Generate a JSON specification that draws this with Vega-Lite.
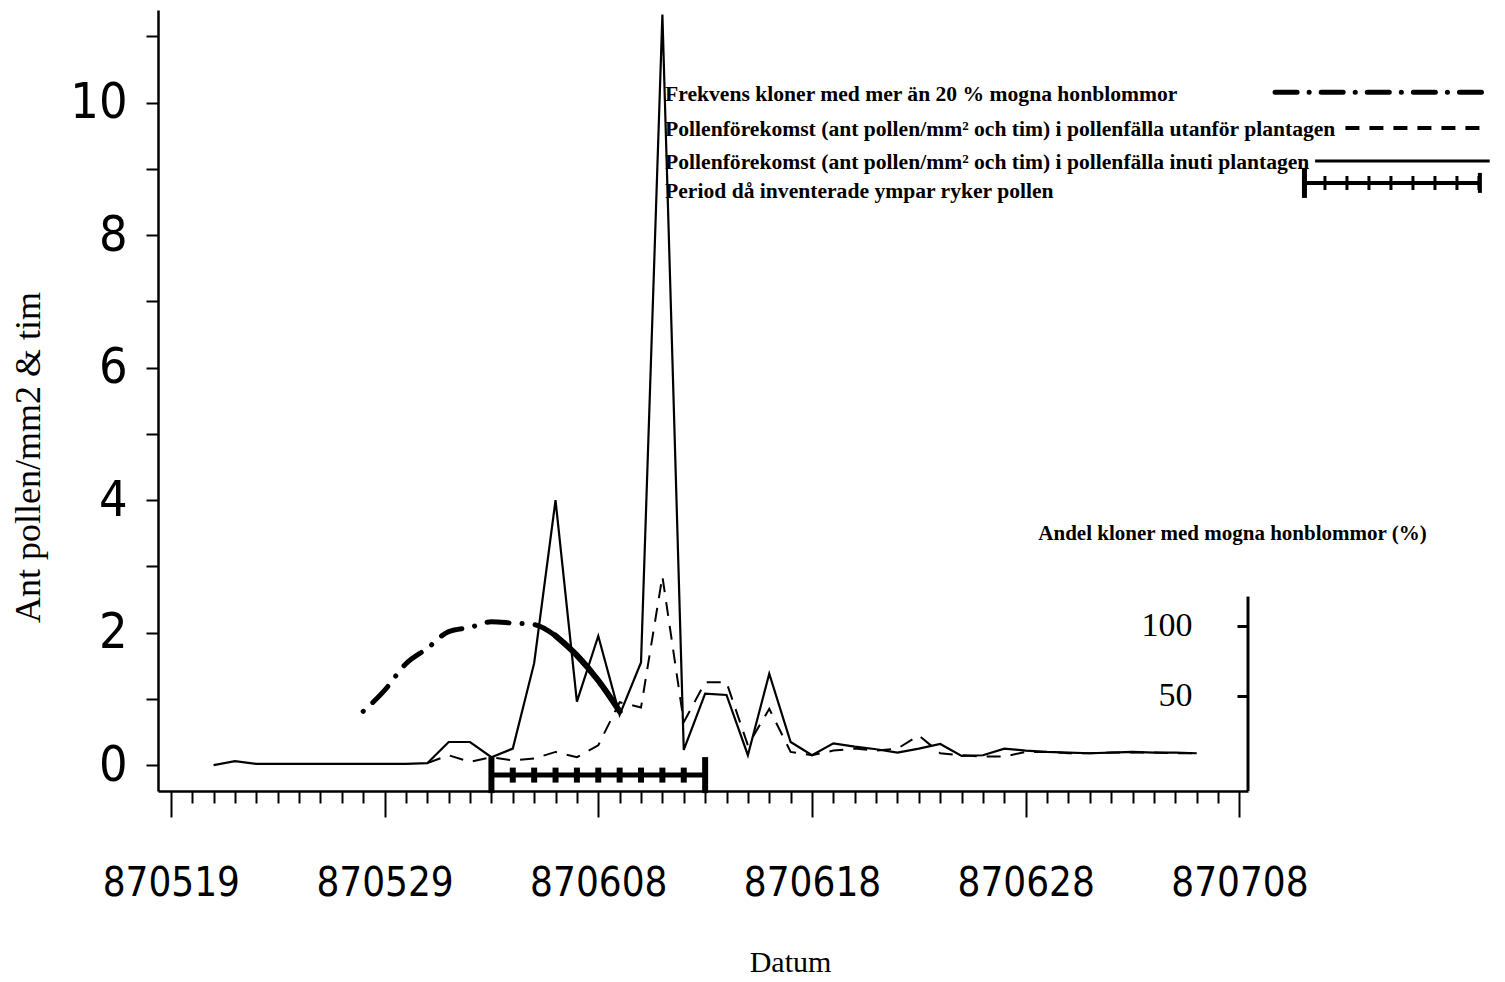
{
  "$schema": "https://vega.github.io/schema/vega-lite/v6.json",
  "width": 1090,
  "height": 781,
  "autosize": "none",
  "padding": {"left": 158, "top": 10, "right": 257, "bottom": 191},
  "background": "white",
  "config": {"view": {"stroke": null}, "font": "Liberation Serif"},
  "datasets": {
    "pollen": [
      {"Datum": "1987-05-21", "inuti": 0.0},
      {"Datum": "1987-05-22", "inuti": 0.06},
      {"Datum": "1987-05-23", "inuti": 0.02},
      {"Datum": "1987-05-24", "inuti": 0.02},
      {"Datum": "1987-05-25", "inuti": 0.02},
      {"Datum": "1987-05-26", "inuti": 0.02},
      {"Datum": "1987-05-27", "inuti": 0.02},
      {"Datum": "1987-05-28", "inuti": 0.02},
      {"Datum": "1987-05-29", "inuti": 0.02},
      {"Datum": "1987-05-30", "inuti": 0.02},
      {"Datum": "1987-05-31", "inuti": 0.03, "utanfor": 0.03},
      {"Datum": "1987-06-01", "inuti": 0.35, "utanfor": 0.15},
      {"Datum": "1987-06-02", "inuti": 0.35, "utanfor": 0.05},
      {"Datum": "1987-06-03", "inuti": 0.12, "utanfor": 0.12},
      {"Datum": "1987-06-04", "inuti": 0.25, "utanfor": 0.07},
      {"Datum": "1987-06-05", "inuti": 1.54, "utanfor": 0.1},
      {"Datum": "1987-06-06", "inuti": 4.0, "utanfor": 0.2},
      {"Datum": "1987-06-07", "inuti": 0.96, "utanfor": 0.12},
      {"Datum": "1987-06-08", "inuti": 1.95, "utanfor": 0.3},
      {"Datum": "1987-06-09", "inuti": 0.76, "utanfor": 0.95},
      {"Datum": "1987-06-10", "inuti": 1.55, "utanfor": 0.87},
      {"Datum": "1987-06-11", "inuti": 11.33, "utanfor": 2.85},
      {"Datum": "1987-06-12", "inuti": 0.23, "utanfor": 0.65},
      {"Datum": "1987-06-13", "inuti": 1.08, "utanfor": 1.25},
      {"Datum": "1987-06-14", "inuti": 1.06, "utanfor": 1.25},
      {"Datum": "1987-06-15", "inuti": 0.15, "utanfor": 0.3},
      {"Datum": "1987-06-16", "inuti": 1.38, "utanfor": 0.85},
      {"Datum": "1987-06-17", "inuti": 0.35, "utanfor": 0.2},
      {"Datum": "1987-06-18", "inuti": 0.15, "utanfor": 0.15},
      {"Datum": "1987-06-19", "inuti": 0.33, "utanfor": 0.22},
      {"Datum": "1987-06-20", "inuti": 0.28, "utanfor": 0.25},
      {"Datum": "1987-06-21", "inuti": 0.24, "utanfor": 0.22},
      {"Datum": "1987-06-22", "inuti": 0.19, "utanfor": 0.25},
      {"Datum": "1987-06-23", "inuti": 0.25, "utanfor": 0.45},
      {"Datum": "1987-06-24", "inuti": 0.32, "utanfor": 0.18},
      {"Datum": "1987-06-25", "inuti": 0.14, "utanfor": 0.15},
      {"Datum": "1987-06-26", "inuti": 0.15, "utanfor": 0.13},
      {"Datum": "1987-06-27", "inuti": 0.25, "utanfor": 0.13},
      {"Datum": "1987-06-28", "inuti": 0.22, "utanfor": 0.2},
      {"Datum": "1987-06-29", "inuti": 0.2, "utanfor": 0.2},
      {"Datum": "1987-06-30", "inuti": 0.19, "utanfor": 0.18},
      {"Datum": "1987-07-01", "inuti": 0.18, "utanfor": 0.18},
      {"Datum": "1987-07-02", "inuti": 0.19, "utanfor": 0.19},
      {"Datum": "1987-07-03", "inuti": 0.2, "utanfor": 0.19},
      {"Datum": "1987-07-04", "inuti": 0.19, "utanfor": 0.19},
      {"Datum": "1987-07-05", "inuti": 0.19, "utanfor": 0.18},
      {"Datum": "1987-07-06", "inuti": 0.18, "utanfor": 0.18}
    ],
    "period": [
      {"Datum": "1987-06-03", "del": "start"},
      {"Datum": "1987-06-04", "del": "mellan"},
      {"Datum": "1987-06-05", "del": "mellan"},
      {"Datum": "1987-06-06", "del": "mellan"},
      {"Datum": "1987-06-07", "del": "mellan"},
      {"Datum": "1987-06-08", "del": "mellan"},
      {"Datum": "1987-06-09", "del": "mellan"},
      {"Datum": "1987-06-10", "del": "mellan"},
      {"Datum": "1987-06-11", "del": "mellan"},
      {"Datum": "1987-06-12", "del": "mellan"},
      {"Datum": "1987-06-13", "del": "slut"}
    ],
    "andel": [
      {"Datum": "1987-05-28", "andel": 39},
      {"Datum": "1987-05-29", "andel": 54},
      {"Datum": "1987-05-30", "andel": 73},
      {"Datum": "1987-05-31", "andel": 84},
      {"Datum": "1987-06-01", "andel": 96},
      {"Datum": "1987-06-02", "andel": 99},
      {"Datum": "1987-06-03", "andel": 103},
      {"Datum": "1987-06-04", "andel": 102},
      {"Datum": "1987-06-05", "andel": 101},
      {"Datum": "1987-06-06", "andel": 93},
      {"Datum": "1987-06-07", "andel": 79},
      {"Datum": "1987-06-08", "andel": 61},
      {"Datum": "1987-06-09", "andel": 39}
    ],
    "legend": [
      {"nr": 1, "text": "Frekvens kloner med mer än 20 % mogna honblommor"},
      {"nr": 2, "text": "Pollenförekomst (ant pollen/mm² och tim) i pollenfälla utanför plantagen"},
      {"nr": 3, "text": "Pollenförekomst (ant pollen/mm² och tim) i pollenfälla inuti plantagen"},
      {"nr": 4, "text": "Period då inventerade ympar ryker pollen"}
    ]
  },
  "layer": [
    {
      "layer": [
        {
          "data": {"name": "pollen"},
          "mark": {"type": "line", "color": "black", "strokeWidth": 2.2},
          "encoding": {
            "x": {
              "field": "Datum", "type": "temporal",
              "scale": {"type": "utc", "domain": [
                {"year": 1987, "month": 5, "date": 18, "hours": 9, "minutes": 36, "utc": true},
                {"year": 1987, "month": 7, "date": 8, "hours": 9, "minutes": 36, "utc": true}
              ]},
              "axis": {
                "tickCount": {"interval": "day", "step": 1},
                "labelExpr": "round((datum.value - utc(1987,4,19))/864e5) % 10 == 0 ? utcFormat(datum.value, '%y%m%d') : ''",
                "tickSize": {"condition": {"test": "round((datum.value - utc(1987,4,19))/864e5) % 10 == 0", "value": 26}, "value": 12},
                "tickWidth": 2, "tickColor": "black",
                "domainColor": "black", "domainWidth": 2.5,
                "grid": false,
                "labelFont": "'DejaVu Sans Condensed', 'DejaVu Sans', sans-serif",
                "labelFontSize": 40, "labelColor": "black", "labelPadding": 46,
                "labelOverlap": false, "labelFlush": false, "labelBound": false,
                "title": "Datum", "titleFont": "Liberation Serif", "titleFontSize": 30, "titleFontWeight": "normal",
                "titleColor": "black", "titleX": 632, "titleY": 171, "titleAlign": "center", "titleBaseline": "middle"
              }
            },
            "y": {
              "field": "inuti", "type": "quantitative",
              "scale": {"domain": [-0.39, 11.4], "nice": false, "zero": false},
              "axis": {
                "values": [0, 0.5, 1, 1.5, 2, 2.5, 3, 3.5, 4, 4.5, 5, 5.5, 6, 6.5, 7, 7.5, 8, 8.5, 9, 9.5, 10, 10.5, 11],
                "labelExpr": "datum.value % 2 == 0 ? format(datum.value, 'd') : ''",
                "tickSize": 12, "tickWidth": 2, "tickColor": "black",
                "domainColor": "black", "domainWidth": 2.5,
                "grid": false,
                "labelFont": "'DejaVu Sans Condensed', 'DejaVu Sans', sans-serif",
                "labelFontSize": 50, "labelColor": "black", "labelPadding": 19,
                "labelOverlap": false, "labelFlush": false, "labelBound": false,
                "title": "Ant pollen/mm2 & tim", "titleFont": "Liberation Serif", "titleFontSize": 36, "titleFontWeight": "normal",
                "titleColor": "black", "titleX": -130, "titleY": 447, "titleAlign": "center", "titleBaseline": "middle", "titleAngle": 270
              }
            }
          }
        },
        {
          "data": {"name": "pollen"},
          "mark": {"type": "line", "color": "black", "strokeWidth": 2, "strokeDash": [14, 10]},
          "encoding": {
            "x": {"field": "Datum", "type": "temporal"},
            "y": {"field": "utanfor", "type": "quantitative"}
          }
        },
        {
          "data": {"name": "period"},
          "mark": {"type": "line", "color": "black", "strokeWidth": 5},
          "encoding": {
            "x": {"field": "Datum", "type": "temporal"},
            "y": {"datum": -0.15}
          }
        },
        {
          "data": {"name": "period"},
          "transform": [{"filter": "datum.del == 'mellan'"}],
          "mark": {"type": "tick", "orient": "vertical", "color": "black", "opacity": 1, "size": 15, "thickness": 6},
          "encoding": {
            "x": {"field": "Datum", "type": "temporal"},
            "y": {"datum": -0.15}
          }
        },
        {
          "data": {"name": "period"},
          "transform": [{"filter": "datum.del != 'mellan'"}],
          "mark": {"type": "tick", "orient": "vertical", "color": "black", "opacity": 1, "size": 36, "thickness": 6},
          "encoding": {
            "x": {"field": "Datum", "type": "temporal"},
            "y": {"datum": -0.15}
          }
        },
        {
          "data": {"name": "legend"},
          "transform": [{"filter": "datum.nr == 1"}],
          "mark": {"type": "text", "align": "left", "baseline": "middle", "font": "Liberation Serif", "fontWeight": "bold", "fontSize": 21.6, "color": "black"},
          "encoding": {
            "x": {"datum": {"year": 1987, "month": 6, "date": 11, "hours": 3, "utc": true}, "type": "temporal"},
            "y": {"datum": 10.11},
            "text": {"field": "text"}
          }
        },
        {
          "data": {"name": "legend"},
          "transform": [{"filter": "datum.nr == 2"}],
          "mark": {"type": "text", "align": "left", "baseline": "middle", "font": "Liberation Serif", "fontWeight": "bold", "fontSize": 21.6, "color": "black"},
          "encoding": {
            "x": {"datum": {"year": 1987, "month": 6, "date": 11, "hours": 3, "utc": true}, "type": "temporal"},
            "y": {"datum": 9.59},
            "text": {"field": "text"}
          }
        },
        {
          "data": {"name": "legend"},
          "transform": [{"filter": "datum.nr == 3"}],
          "mark": {"type": "text", "align": "left", "baseline": "middle", "font": "Liberation Serif", "fontWeight": "bold", "fontSize": 21.6, "color": "black"},
          "encoding": {
            "x": {"datum": {"year": 1987, "month": 6, "date": 11, "hours": 3, "utc": true}, "type": "temporal"},
            "y": {"datum": 9.09},
            "text": {"field": "text"}
          }
        },
        {
          "data": {"name": "legend"},
          "transform": [{"filter": "datum.nr == 4"}],
          "mark": {"type": "text", "align": "left", "baseline": "middle", "font": "Liberation Serif", "fontWeight": "bold", "fontSize": 21.6, "color": "black"},
          "encoding": {
            "x": {"datum": {"year": 1987, "month": 6, "date": 11, "hours": 3, "utc": true}, "type": "temporal"},
            "y": {"datum": 8.65},
            "text": {"field": "text"}
          }
        },
        {
          "data": {"values": [{}]},
          "mark": {"type": "rule", "color": "black", "strokeWidth": 5, "strokeCap": "round", "strokeDash": [22, 12, 0.1, 12]},
          "encoding": {
            "x": {"datum": {"year": 1987, "month": 7, "date": 9, "hours": 16, "utc": true}, "type": "temporal"},
            "x2": {"datum": {"year": 1987, "month": 7, "date": 19, "hours": 17, "utc": true}},
            "y": {"datum": 10.16}
          }
        },
        {
          "data": {"values": [{}]},
          "mark": {"type": "rule", "color": "black", "strokeWidth": 4, "strokeDash": [14, 10]},
          "encoding": {
            "x": {"datum": {"year": 1987, "month": 7, "date": 12, "hours": 23, "utc": true}, "type": "temporal"},
            "x2": {"datum": {"year": 1987, "month": 7, "date": 19, "hours": 6, "utc": true}},
            "y": {"datum": 9.62}
          }
        },
        {
          "data": {"values": [{}]},
          "mark": {"type": "rule", "color": "black", "strokeWidth": 3},
          "encoding": {
            "x": {"datum": {"year": 1987, "month": 7, "date": 11, "hours": 13, "utc": true}, "type": "temporal"},
            "x2": {"datum": {"year": 1987, "month": 7, "date": 19, "hours": 17, "utc": true}},
            "y": {"datum": 9.12}
          }
        },
        {
          "data": {"values": [{}]},
          "mark": {"type": "rule", "color": "black", "strokeWidth": 4},
          "encoding": {
            "x": {"datum": {"year": 1987, "month": 7, "date": 11, "hours": 1, "utc": true}, "type": "temporal"},
            "x2": {"datum": {"year": 1987, "month": 7, "date": 19, "hours": 6, "utc": true}},
            "y": {"datum": 8.79}
          }
        },
        {
          "data": {"values": [{}]},
          "mark": {"type": "rule", "color": "black", "strokeWidth": 14, "strokeDash": [3, 19], "strokeDashOffset": -19},
          "encoding": {
            "x": {"datum": {"year": 1987, "month": 7, "date": 11, "hours": 1, "utc": true}, "type": "temporal"},
            "x2": {"datum": {"year": 1987, "month": 7, "date": 19, "hours": 6, "utc": true}},
            "y": {"datum": 8.79}
          }
        },
        {
          "data": {"values": [{}]},
          "mark": {"type": "tick", "orient": "vertical", "color": "black", "opacity": 1, "size": 30, "thickness": 5},
          "encoding": {
            "x": {"datum": {"year": 1987, "month": 7, "date": 11, "hours": 1, "utc": true}, "type": "temporal"},
            "y": {"datum": 8.79}
          }
        },
        {
          "data": {"values": [{}]},
          "mark": {"type": "tick", "orient": "vertical", "color": "black", "opacity": 1, "size": 20, "thickness": 4},
          "encoding": {
            "x": {"datum": {"year": 1987, "month": 7, "date": 19, "hours": 6, "utc": true}, "type": "temporal"},
            "y": {"datum": 8.79}
          }
        }
      ]
    },
    {
      "layer": [
        {
          "data": {"name": "andel"},
          "mark": {"type": "line", "color": "black", "strokeWidth": 5, "strokeCap": "round", "strokeDash": [0.1, 13, 22, 13], "interpolate": "monotone"},
          "encoding": {
            "x": {"field": "Datum", "type": "temporal"},
            "y": {
              "field": "andel", "type": "quantitative",
              "scale": {"domain": [-17.9, 540], "nice": false, "zero": false},
              "axis": {
                "orient": "left", "offset": -1090,
                "values": [50, 100], "domain": false,
                "tickSize": 11, "tickWidth": 3, "tickColor": "black",
                "grid": false,
                "labelFont": "Liberation Serif", "labelFontSize": 34, "labelColor": "black", "labelPadding": 45,
                "labelFlush": false, "labelBound": false, "labelOverlap": false,
                "title": "Andel kloner med mogna honblommor (%)", "titleFont": "Liberation Serif", "titleFontSize": 21, "titleFontWeight": "bold",
                "titleColor": "black", "titleAngle": 0, "titleX": -16, "titleY": 523, "titleAlign": "center", "titleBaseline": "middle"
              }
            }
          }
        },
        {
          "data": {"name": "andel"},
          "transform": [{"filter": "datum.Datum >= utc(1987,5,6)"}],
          "mark": {"type": "line", "color": "black", "strokeWidth": 6, "strokeCap": "round", "interpolate": "monotone"},
          "encoding": {
            "x": {"field": "Datum", "type": "temporal"},
            "y": {"field": "andel", "type": "quantitative"}
          }
        },
        {
          "data": {"values": [{}]},
          "mark": {"type": "rule", "color": "black", "strokeWidth": 3},
          "encoding": {
            "x": {"datum": {"year": 1987, "month": 7, "date": 8, "hours": 9, "minutes": 36, "utc": true}, "type": "temporal"},
            "y": {"datum": -17.9},
            "y2": {"datum": 121}
          }
        }
      ]
    }
  ],
  "resolve": {"scale": {"y": "independent"}}
}
